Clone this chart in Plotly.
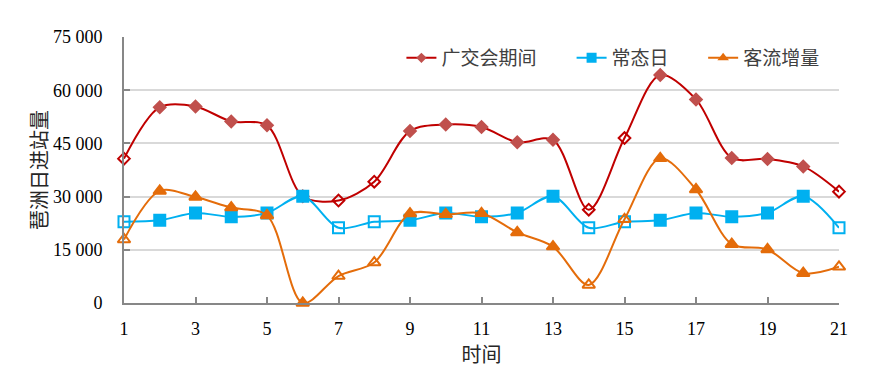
import plotly.graph_objects as go

days = list(range(1, 22))
fair = [40700, 55200, 55400, 51200, 50100, 30100, 28900, 34200, 48500, 50300,
        49600, 45300, 46000, 26300, 46500, 64300, 57400, 40900, 40600, 38500, 31400]
normal = [22900, 23300, 25400, 24300, 25400, 30100, 21200, 22900, 23300, 25400,
          24300, 25400, 30100, 21200, 22900, 23300, 25400, 24300, 25400, 30100, 21200]
increase = [17900, 31600, 29900, 26900, 24700, 0, 7600, 11400, 25200, 25000,
            25300, 19900, 15900, 5100, 23600, 40800, 32000, 16600, 15100, 8400, 10200]
hollow_days = [1, 7, 8, 14, 15, 21]
ytick_vals = [0, 15000, 30000, 45000, 60000, 75000]
ytick_text = ["0", "15 000", "30 000", "45 000", "60 000", "75 000"]
xtick_vals = list(range(1, 22, 2))

names = ["广交会期间", "常态日", "客流增量"]
series = [fair, normal, increase]
line_colors = ["#C00000", "#00B0F0", "#E46C0A"]
fill_colors = ["#C0504D", "#00B0F0", "#E46C0A"]
hollow_colors = ["#C00000", "#00B0F0", "#E46C0A"]
symbols = ["diamond", "square", "triangle-up"]
sizes = [9, 11, 11]
legend_ids = ["legend", "legend2", "legend3"]
legend_x = [0.388, 0.626, 0.810]

fig = go.Figure()
for name, ys, lc, fc, hc, sym, sz in zip(names, series, line_colors, fill_colors,
                                          hollow_colors, symbols, sizes):
    sym_arr = [sym + "-open" if d in hollow_days else sym for d in days]
    col_arr = [hc if d in hollow_days else fc for d in days]
    fig.add_trace(go.Scatter(
        x=days, y=ys, mode="lines+markers", showlegend=False,
        line=dict(color=lc, width=2, shape="spline", smoothing=0.9),
        marker=dict(symbol=sym_arr, color=col_arr, size=sz,
                    line=dict(width=2, color=col_arr)),
        cliponaxis=False,
    ))
for name, lc, fc, sym, sz, lid in zip(names, line_colors, fill_colors, symbols,
                                      sizes, legend_ids):
    fig.add_trace(go.Scatter(
        x=[None], y=[None], mode="lines+markers", name=name, legend=lid,
        line=dict(color=lc, width=2),
        marker=dict(symbol=sym, color=fc, size=sz - 1),
    ))

legend_common = dict(orientation="h", y=0.921, xanchor="left", yanchor="middle",
                     font=dict(family="Noto Sans CJK SC", size=19, color="#404040"),
                     bgcolor="rgba(0,0,0,0)")

fig.update_layout(
    width=875, height=362,
    margin=dict(l=116, r=44, t=29, b=67),
    paper_bgcolor="white", plot_bgcolor="white",
    font=dict(family="Liberation Serif, Noto Sans CJK SC", size=18, color="#000000"),
    legend=dict(x=legend_x[0], **legend_common),
    legend2=dict(x=legend_x[1], **legend_common),
    legend3=dict(x=legend_x[2], **legend_common),
    xaxis=dict(range=[1, 21], tickvals=xtick_vals, showgrid=False,
               showline=True, linecolor="#878787", linewidth=2,
               ticks="inside", ticklen=6, tickcolor="#878787", tickwidth=2,
               title=dict(text="时间", font=dict(family="Noto Sans CJK SC", size=20,
                                                 color="#262626"),
                          standoff=2),
               zeroline=False, automargin=False, ticklabelstandoff=8),
    yaxis=dict(range=[0, 75000], tickvals=ytick_vals, ticktext=ytick_text,
               showgrid=True, gridcolor="#D9D9D9", gridwidth=2,
               showline=True, linecolor="#878787", linewidth=2,
               ticks="inside", ticklen=6, tickcolor="#878787", tickwidth=2,
               title=dict(text="琶洲日进站量", font=dict(family="Noto Sans CJK SC", size=20,
                                                    color="#262626"),
                          standoff=0),
               zeroline=False, automargin=False, ticklabelstandoff=16),
)
fig.write_html("out.html")
